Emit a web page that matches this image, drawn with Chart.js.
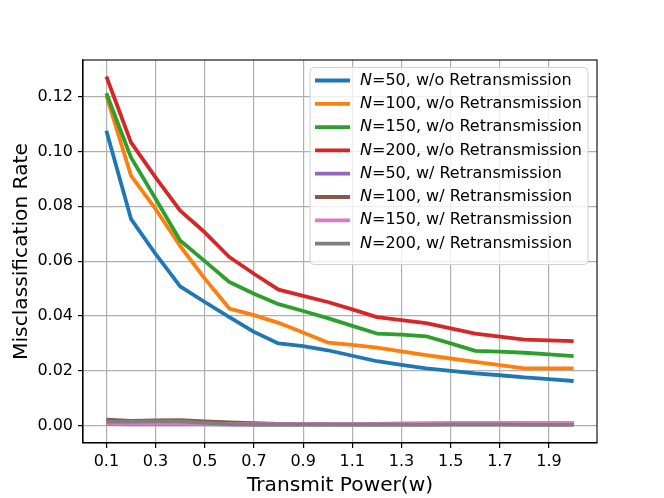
<!DOCTYPE html>
<html>
<head>
<meta charset="utf-8">
<script src="https://cdn.jsdelivr.net/npm/chart.js@4.4.0/dist/chart.umd.min.js"></script>
<style>
  html, body { margin: 0; padding: 0; background: #fff; }
  #wrap { width: 664px; height: 498px; }
</style>
</head>
<body>
<div id="wrap"><canvas id="chart" width="664" height="498"></canvas></div>
<script>
const powers = [0.1, 0.2, 0.3, 0.4, 0.5, 0.6, 0.7, 0.8, 0.9, 1.0, 1.1, 1.2, 1.3, 1.4, 1.5, 1.6, 1.7, 1.8, 1.9, 2.0];
const xTicks = [0.1, 0.3, 0.5, 0.7, 0.9, 1.1, 1.3, 1.5, 1.7, 1.9];
const yTicks = [0.00, 0.02, 0.04, 0.06, 0.08, 0.10, 0.12];

const n50NoRetx  = [0.1075, 0.0754, 0.0626, 0.0508, 0.0451, 0.0396, 0.0342, 0.0300, 0.0290, 0.0275, 0.0255, 0.0235, 0.0222, 0.0209, 0.0200, 0.0191, 0.0184, 0.0176, 0.0170, 0.0163];
const n100NoRetx = [0.1203, 0.0912, 0.0790, 0.0655, 0.0536, 0.0427, 0.0403, 0.0375, 0.0340, 0.0303, 0.0295, 0.0285, 0.0271, 0.0257, 0.0245, 0.0233, 0.0221, 0.0209, 0.0209, 0.0209];
const n150NoRetx = [0.1212, 0.0978, 0.0827, 0.0675, 0.0600, 0.0524, 0.0481, 0.0443, 0.0418, 0.0392, 0.0364, 0.0336, 0.0332, 0.0326, 0.0300, 0.0273, 0.0270, 0.0266, 0.0260, 0.0254];
const n200NoRetx = [0.1273, 0.1033, 0.0905, 0.0784, 0.0705, 0.0615, 0.0554, 0.0496, 0.0473, 0.0451, 0.0424, 0.0396, 0.0385, 0.0374, 0.0355, 0.0336, 0.0325, 0.0314, 0.0311, 0.0308];
const n50Retx    = [0.0006, 0.0005, 0.0005, 0.0005, 0.0005, 0.0004, 0.0004, 0.0004, 0.0004, 0.0004, 0.0004, 0.0004, 0.0004, 0.0005, 0.0005, 0.0005, 0.0005, 0.0005, 0.0005, 0.0005];
const n100Retx   = [0.0022, 0.0018, 0.0019, 0.0020, 0.0016, 0.0012, 0.0009, 0.0007, 0.0006, 0.0006, 0.0006, 0.0006, 0.0006, 0.0006, 0.0007, 0.0008, 0.0008, 0.0008, 0.0008, 0.0008];
const n150Retx   = [0.0008, 0.0008, 0.0008, 0.0008, 0.0007, 0.0006, 0.0006, 0.0006, 0.0006, 0.0006, 0.0007, 0.0007, 0.0008, 0.0009, 0.0010, 0.0010, 0.0010, 0.0010, 0.0010, 0.0010];
const n200Retx   = [0.0015, 0.0015, 0.0016, 0.0016, 0.0010, 0.0006, 0.0004, 0.0004, 0.0004, 0.0004, 0.0004, 0.0005, 0.0004, 0.0003, 0.0004, 0.0004, 0.0004, 0.0003, 0.0003, 0.0003];

const seriesLabels = [
  'N=50, w/o Retransmission', 'N=100, w/o Retransmission', 'N=150, w/o Retransmission', 'N=200, w/o Retransmission',
  'N=50, w/ Retransmission', 'N=100, w/ Retransmission', 'N=150, w/ Retransmission', 'N=200, w/ Retransmission'
];
const seriesValues = [n50NoRetx, n100NoRetx, n150NoRetx, n200NoRetx, n50Retx, n100Retx, n150Retx, n200Retx];
const seriesColors = ['#1f77b4', '#ff7f0e', '#2ca02c', '#d62728', '#9467bd', '#8c564b', '#e377c2', '#7f7f7f'];

const FONT = 'DejaVu Sans';

// frame on all four sides, like matplotlib spines
const framePlugin = {
  id: 'frame',
  afterDraw(chart) {
    const { ctx, chartArea: a } = chart;
    ctx.save();
    ctx.strokeStyle = '#000';
    ctx.lineWidth = 1.1;
    ctx.strokeRect(a.left, a.top, a.right - a.left, a.bottom - a.top);
    ctx.restore();
  }
};

// legend inside the axes (upper right), with italic N
const legendPlugin = {
  id: 'innerLegend',
  afterDraw(chart) {
    const { ctx, chartArea: a } = chart;
    const fs = 16;
    const rowH = 23.3;
    const boxW = 278, boxH = 197;
    const x0 = a.right - 9 - boxW;
    const y0 = a.top + 7.5;
    ctx.save();
    ctx.beginPath();
    ctx.roundRect(x0, y0, boxW, boxH, 4);
    ctx.fillStyle = 'rgba(255,255,255,0.8)';
    ctx.fill();
    ctx.strokeStyle = '#d0d0d0';
    ctx.lineWidth = 1;
    ctx.stroke();
    ctx.textBaseline = 'middle';
    seriesLabels.forEach((label, i) => {
      const cy = y0 + 13 + i * rowH;
      ctx.strokeStyle = seriesColors[i];
      ctx.lineWidth = 3.8;
      ctx.beginPath();
      ctx.moveTo(x0 + 5, cy);
      ctx.lineTo(x0 + 40, cy);
      ctx.stroke();
      ctx.fillStyle = '#000';
      ctx.font = 'italic ' + fs + 'px "' + FONT + '"';
      const tx = x0 + 50;
      ctx.fillText(label[0], tx, cy);
      const w = ctx.measureText(label[0]).width;
      ctx.font = fs + 'px "' + FONT + '"';
      ctx.fillText(label.slice(1), tx + w, cy);
    });
    ctx.restore();
  }
};

const datasets = seriesValues.map((vals, i) => ({
  label: seriesLabels[i],
  data: vals.map((v, j) => ({ x: powers[j], y: v })),
  borderColor: seriesColors[i],
  backgroundColor: seriesColors[i],
  borderWidth: 3.8,
  pointRadius: 0,
  tension: 0,
  fill: false,
  borderJoinStyle: 'round',
  order: seriesValues.length - 1 - i
}));

new Chart(document.getElementById('chart'), {
  type: 'line',
  data: { datasets },
  options: {
    responsive: false,
    animation: false,
    devicePixelRatio: 1,
    layout: { padding: { left: 0, right: 67, top: 60, bottom: 0 } },
    plugins: { legend: { display: false }, tooltip: { enabled: false } },
    scales: {
      x: {
        type: 'linear',
        min: 0.005,
        max: 2.095,
        afterBuildTicks(scale) { scale.ticks = xTicks.map(v => ({ value: v })); },
        afterFit(scale) { scale.height = 55; },
        ticks: {
          autoSkip: false,
          maxRotation: 0,
          color: '#000',
          padding: 4,
          font: { family: FONT, size: 16 },
          callback: v => v.toFixed(1)
        },
        grid: { color: '#b0b0b0', lineWidth: 1.2, tickColor: '#000', tickLength: 5 },
        border: { display: true, color: '#000', width: 1.1 },
        title: {
          display: true,
          text: 'Transmit Power(w)',
          color: '#000',
          font: { family: FONT, size: 20.2 },
          padding: { top: 0, bottom: 0 }
        }
      },
      y: {
        type: 'linear',
        min: -0.0063,
        max: 0.1333,
        afterBuildTicks(scale) { scale.ticks = yTicks.map(v => ({ value: v })); },
        afterFit(scale) { scale.width = 83; },
        ticks: {
          color: '#000',
          padding: 5,
          font: { family: FONT, size: 16 },
          callback: v => v.toFixed(2)
        },
        grid: { color: '#b0b0b0', lineWidth: 1.2, tickColor: '#000', tickLength: 5 },
        border: { display: true, color: '#000', width: 1.1 },
        title: {
          display: true,
          text: 'Misclassification Rate',
          color: '#000',
          font: { family: FONT, size: 20.2 },
          padding: { top: 9.5, bottom: 0 }
        }
      }
    }
  },
  plugins: [framePlugin, legendPlugin]
});
</script>
</body>
</html>
